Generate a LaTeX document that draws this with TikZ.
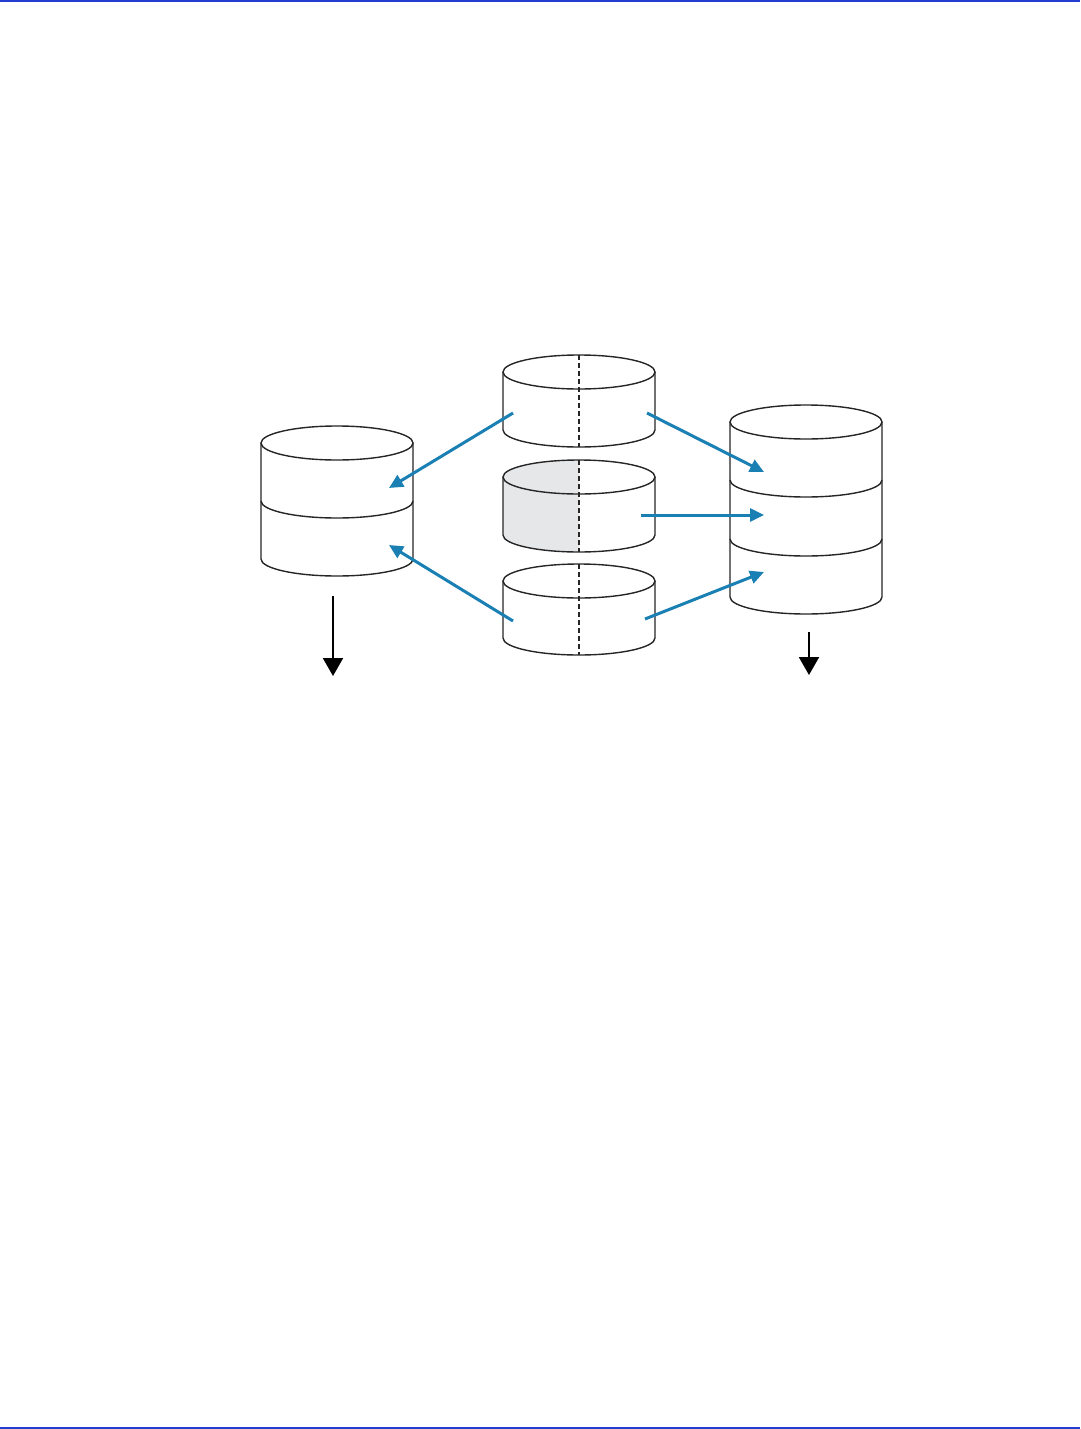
\documentclass[tikz,border=0pt]{standalone}
\usetikzlibrary{arrows.meta}
\definecolor{frameblue}{RGB}{35,60,210}
\definecolor{flowblue}{RGB}{26,128,180}
\definecolor{halfgray}{RGB}{230,231,232}
\tikzset{
  outline/.style={line width=1.4pt, draw=black!85},
  divider/.style={line width=1.1pt, draw=black!85, dash pattern=on 5pt off 3pt},
  flow/.style={line width=3pt, draw=flowblue, -{Triangle[length=14pt,width=13pt]}},
  outflow/.style={line width=2pt, draw=black, -{Triangle[length=18pt,width=20pt]}},
  rule/.style={line width=2pt, draw=frameblue}
}
% drum: #1 cx, #2 top-centre y, #3 bottom-centre y
\newcommand\drumbody[3]{%
  \path[fill=white] (#1-76,#2) -- (#1-76,#3) arc[start angle=180,end angle=360,x radius=76pt,y radius=17pt] -- (#1+76,#2) arc[start angle=0,end angle=180,x radius=76pt,y radius=17pt] -- cycle;}
\newcommand\drumline[3]{%
  \draw[outline] (#1-76,#2) -- (#1-76,#3) arc[start angle=180,end angle=360,x radius=76pt,y radius=17pt] -- (#1+76,#2);
  \draw[outline] (#1,#2) ellipse[x radius=76pt,y radius=17pt];}
\newcommand\drumsep[2]{%
  \draw[outline] (#1-76,#2) arc[start angle=180,end angle=360,x radius=76pt,y radius=17pt];}
\begin{document}
\begin{tikzpicture}[x=1pt,y=-1pt]
\useasboundingbox (0,0) rectangle (1080,1429);
\draw[rule] (0,1) -- (1080,1);
\draw[rule] (0,1428) -- (1080,1428);

% left drum (two sections)
\drumbody{337}{443}{559}
\drumline{337}{443}{559}
\drumsep{337}{501}

% right drum (three sections)
\drumbody{806}{422}{597}
\drumline{806}{422}{597}
\drumsep{806}{480}
\drumsep{806}{539}

% middle drums
\drumbody{579}{372}{430}
\drumbody{579}{477}{535}
\drumbody{579}{581}{638}
\path[fill=halfgray] (579,460) arc[start angle=90,end angle=180,x radius=76pt,y radius=17pt] -- (503,535) arc[start angle=180,end angle=270,x radius=76pt,y radius=17pt] -- cycle;
\drumline{579}{372}{430}
\drumline{579}{477}{535}
\drumline{579}{581}{638}
\draw[divider] (579,355) -- (579,447);
\draw[divider] (579,460) -- (579,552);
\draw[divider] (579,564) -- (579,655);

% connector end points
\coordinate (tl) at (513,413);
\coordinate (bl) at (513,621);
\coordinate (tr) at (647,413);
\coordinate (mr) at (641,515);
\coordinate (br) at (645,619);
\coordinate (lu) at (389,488);
\coordinate (ll) at (389,545);
\coordinate (ru) at (764,472);
\coordinate (rm) at (764,515);
\coordinate (rl) at (764,572);
\coordinate (lo0) at (333,596);
\coordinate (lo1) at (333,676);
\coordinate (ro0) at (809,632);
\coordinate (ro1) at (809,675);

\draw[flow] (tl) -- (lu);
\draw[flow] (bl) -- (ll);
\draw[flow] (tr) -- (ru);
\draw[flow] (mr) -- (rm);
\draw[flow] (br) -- (rl);
\draw[outflow] (lo0) -- (lo1);
\draw[outflow] (ro0) -- (ro1);
\end{tikzpicture}
\end{document}
